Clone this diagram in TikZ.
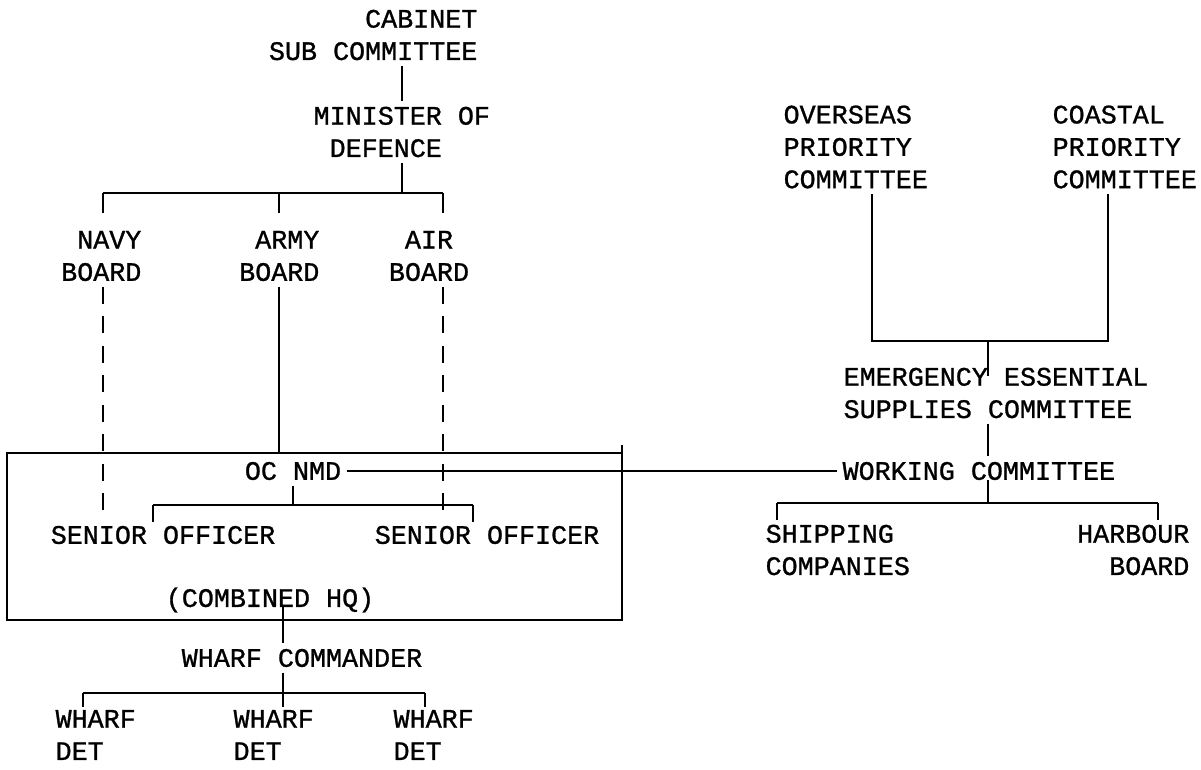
\documentclass[tikz,border=0pt]{standalone}
\usepackage{fontspec}
\setmonofont[FakeBold=1]{Liberation Mono}
\begin{document}
\begin{tikzpicture}[x=0.025cm, y=-0.025cm, line width=1.5pt,
    lbl/.style={font=\ttfamily\fontsize{19}{23}\selectfont, inner sep=0pt, outer sep=4pt},
    dashline/.style={dash pattern=on 12pt off 9pt}]
  \useasboundingbox (0, 0) rectangle (1201, 769);
  \node[lbl, anchor=east, align=right] (cab) at (483, 35) {CABINET\\SUB COMMITTEE};
  \node[lbl, anchor=west, align=left] (mod) at (308, 132) {MINISTER OF\\\hphantom{M}DEFENCE};
  \node[lbl, anchor=east, align=right] (navy) at (147, 256) {NAVY\\BOARD};
  \node[lbl, anchor=east, align=right] (army) at (325, 256) {ARMY\\BOARD};
  \node[lbl, align=center] (air) at (429, 256) {AIR\\BOARD};
  \node[lbl] (ocnmd) at (293, 471) {OC NMD};
  \node[lbl] (so1) at (163, 535) {SENIOR OFFICER};
  \node[lbl] (so2) at (487, 535) {SENIOR OFFICER};
  \node[lbl] (chq) at (270, 600) {(COMBINED HQ)};
  \node[lbl] (wcmd) at (302, 658) {WHARF COMMANDER};
  \node[lbl, anchor=west, align=left] (wd1) at (50, 735) {WHARF\\DET};
  \node[lbl, anchor=west, align=left] (wd2) at (228, 735) {WHARF\\DET};
  \node[lbl, anchor=west, align=left] (wd3) at (388, 735) {WHARF\\DET};
  \node[lbl, anchor=west, align=left] (opc) at (778, 147) {OVERSEAS\\PRIORITY\\COMMITTEE};
  \node[lbl, anchor=west, align=left] (cpc) at (1047, 147) {COASTAL\\PRIORITY\\COMMITTEE};
  \node[lbl, anchor=west, align=left] (eesc) at (838, 393) {EMERGENCY ESSENTIAL\\SUPPLIES COMMITTEE};
  \node[lbl, anchor=west] (wkc) at (837, 471) {WORKING COMMITTEE};
  \node[lbl, anchor=west, align=left] (shc) at (760, 550) {SHIPPING\\COMPANIES};
  \node[lbl, anchor=east, align=right] (hbb) at (1195, 550) {HARBOUR\\BOARD};
  \coordinate (b1) at (103, 193);
  \coordinate (b3) at (443, 193);
  \coordinate (hqnw) at (7, 453);
  \coordinate (hqse) at (622, 620);
  \coordinate (sb1) at (153, 505);
  \coordinate (sb2) at (473, 505);
  \coordinate (cb1) at (83, 693);
  \coordinate (cl) at (283, 693);
  \coordinate (cb3) at (425, 693);
  \coordinate (pb1) at (872, 341);
  \coordinate (pm) at (988, 341);
  \coordinate (pb2) at (1108, 341);
  \coordinate (wb1) at (777, 503);
  \coordinate (wb2) at (1158, 503);
  \draw (cab.south -| mod.north) -- (mod.north);
  \draw (mod.south) -- (mod.south |- b1);
  \draw (b1) -- (b3);
  \draw (b1) -- ++(0, 20);
  \draw (army.north |- b1) -- ++(0, 20);
  \draw (b3) -- ++(0, 20);
  \draw[dashline] (b1 |- navy.south) -- (b1 |- so1.north);
  \draw (army.south) -- (army.south |- hqnw);
  \draw[dashline] (b3 |- air.south) -- (b3 |- so2.north);
  \draw (hqnw) rectangle (hqse);
  \draw (hqse |- hqnw) -- ++(0, -8);
  \draw (ocnmd.east) -- (wkc.west);
  \draw (ocnmd.south) -- (ocnmd.south |- sb1);
  \draw (sb1) -- (sb2);
  \draw (sb1) -- ++(0, 17);
  \draw (sb2) -- ++(0, 17);
  \draw (chq.base -| cl) -- (wcmd.north -| cl);
  \draw (wcmd.south -| cl) -- (cl);
  \draw (cb1) -- (cb3);
  \draw (cb1) -- ++(0, 14);
  \draw (cl) -- ++(0, 14);
  \draw (cb3) -- ++(0, 14);
  \draw (pb1 |- opc.south) -- (pb1) -- (pb2) -- (pb2 |- cpc.south);
  \draw (pm) -- ++(0, 35);
  \draw (eesc.south -| pm) -- (wkc.north -| pm);
  \draw (wkc.base -| pm) -- (wb1 -| pm);
  \draw (wb1) -- (wb2);
  \draw (wb1) -- ++(0, 17);
  \draw (wb2) -- ++(0, 17);
\end{tikzpicture}
\end{document}
